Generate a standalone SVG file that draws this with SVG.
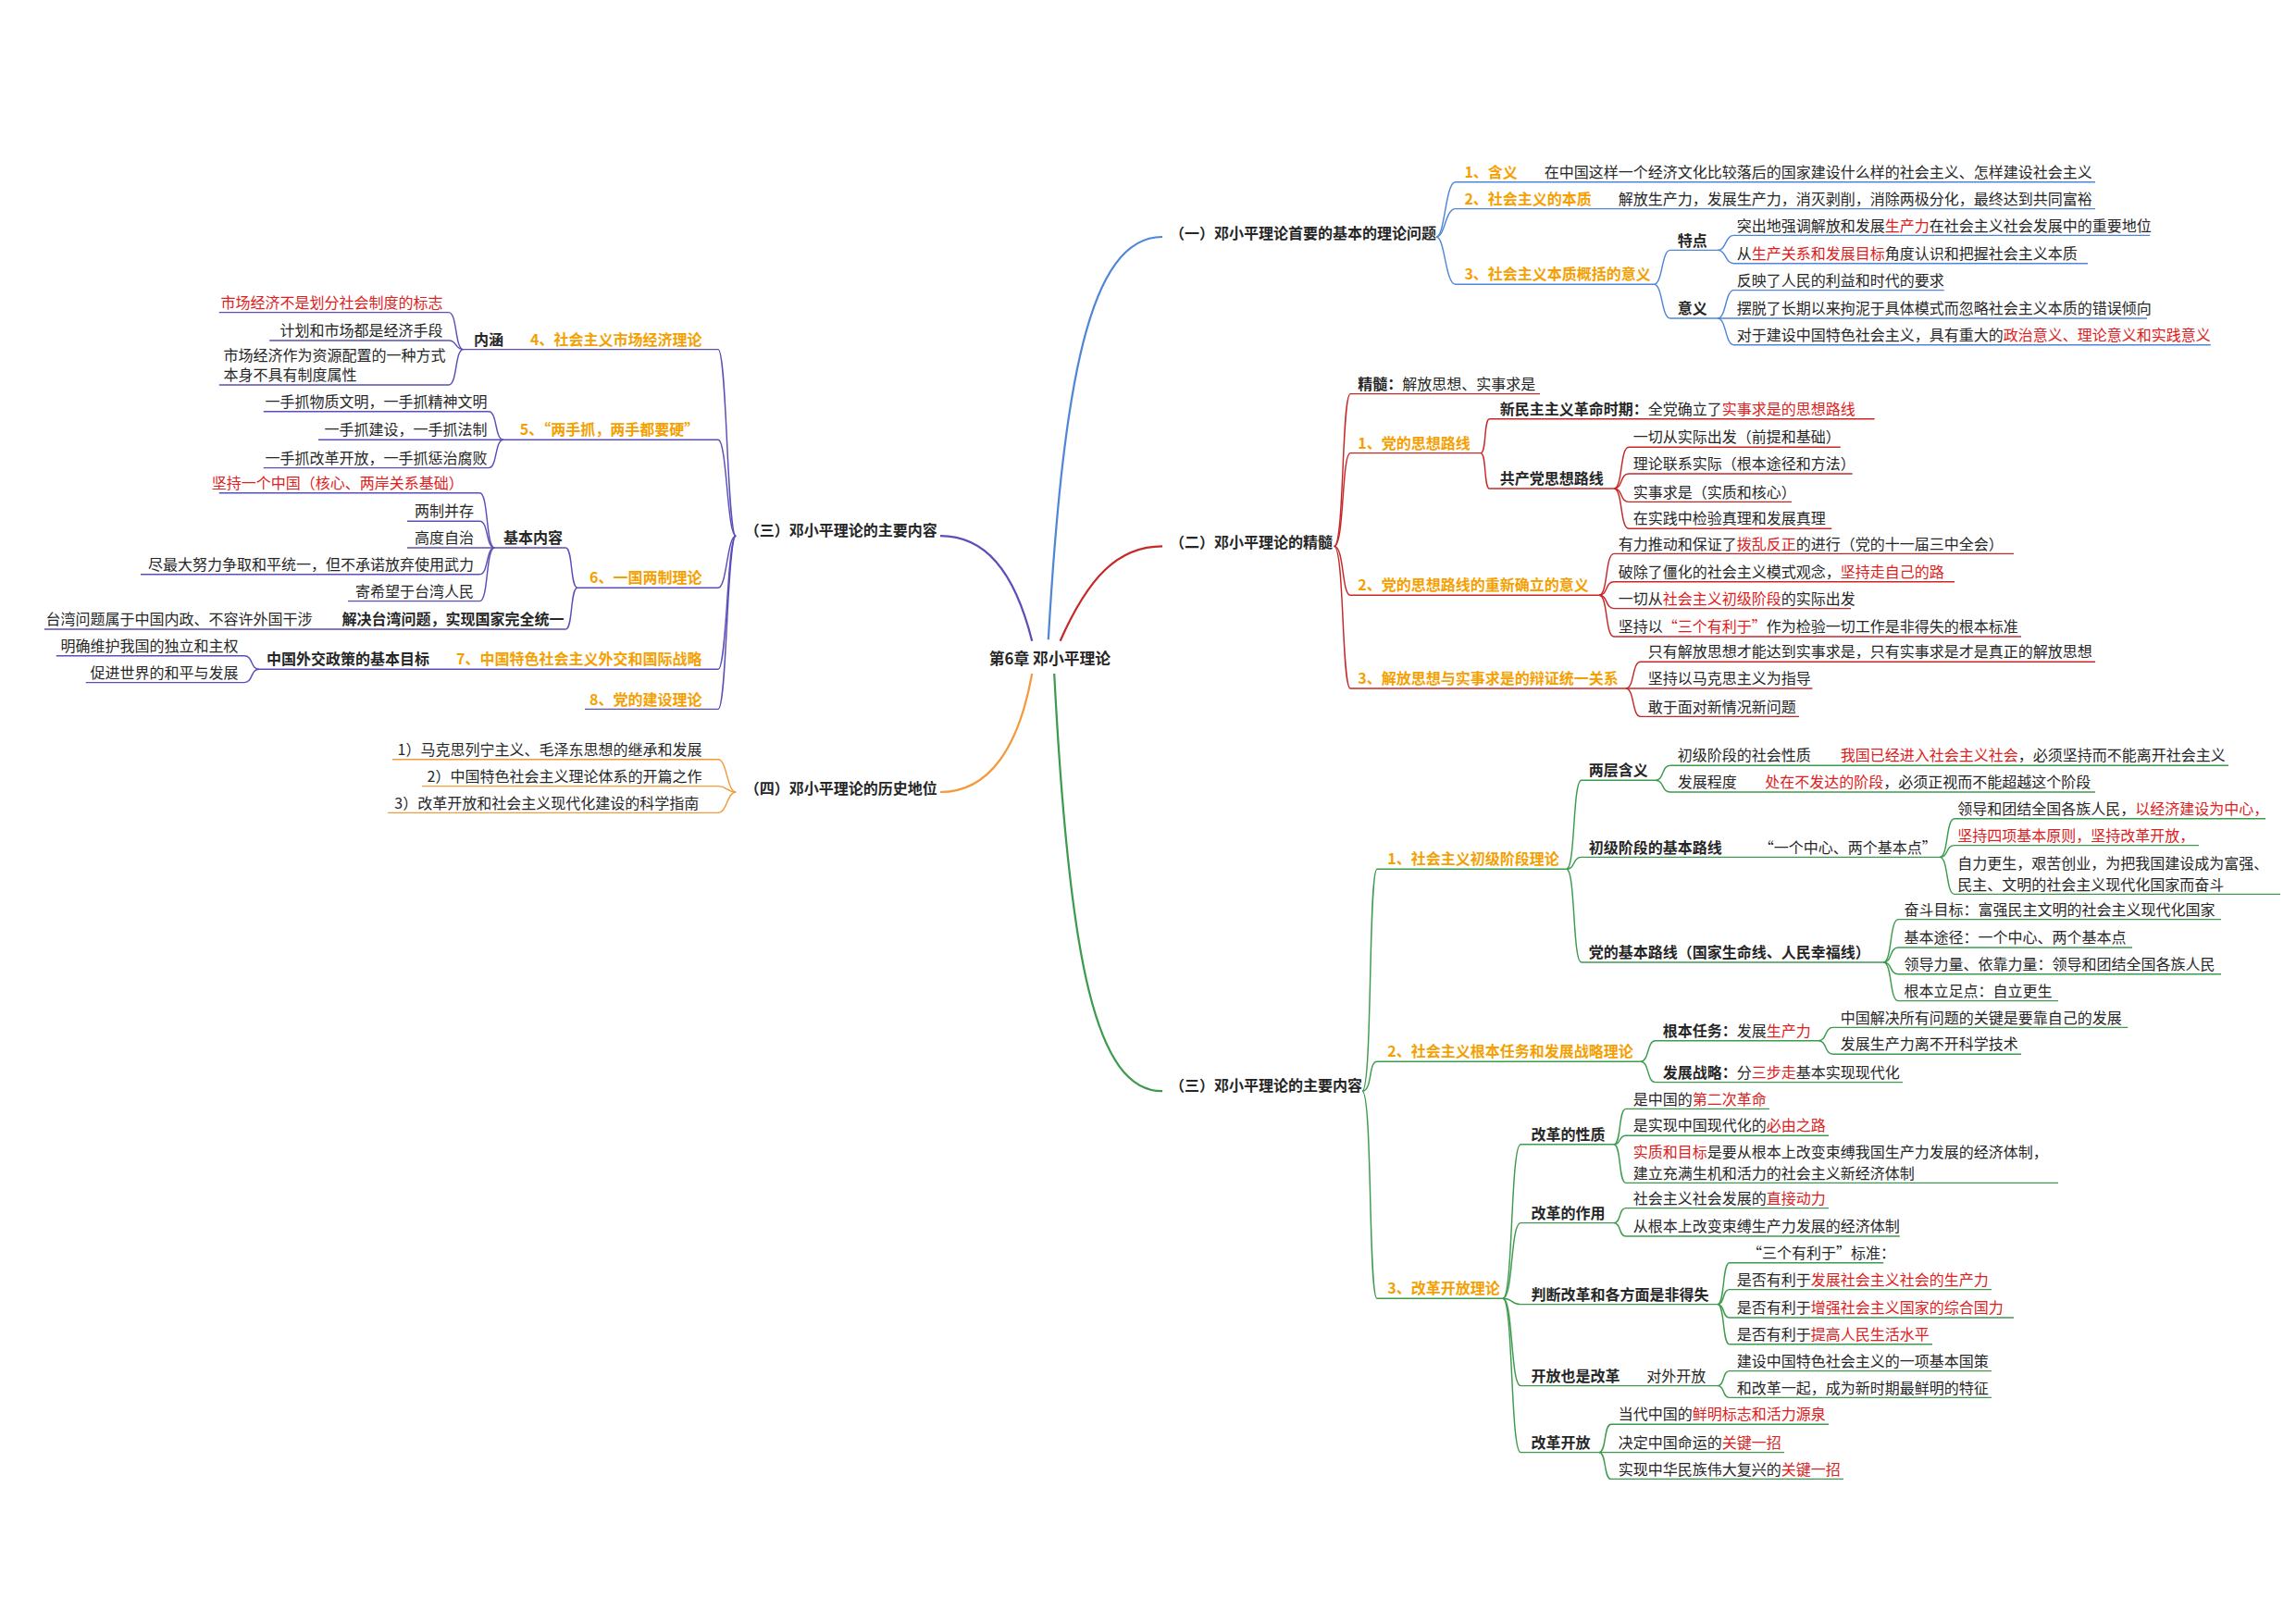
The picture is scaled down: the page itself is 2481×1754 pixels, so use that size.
<svg xmlns="http://www.w3.org/2000/svg" width="2481" height="1754" viewBox="0 0 2481 1754">
<style>
text{font-family:"Noto Sans CJK SC","Liberation Sans",sans-serif;font-size:10px;fill:#262626}
.b{font-weight:bold}
.o{font-weight:bold;fill:#f5a000}
.r{fill:#e02020}
.c{font-weight:bold;font-size:10.5px}
.e{text-anchor:end}
path{fill:none;stroke-width:0.9}
.cb path{stroke:#4f86d6}.cr path{stroke:#c62828}.cg path{stroke:#3c9b4c}.cp path{stroke:#5a4fb8}.co path{stroke:#f39a3c}
.m{stroke-width:1.4}
</style>
<rect width="2481" height="1754" fill="#fff"/>
<g transform="scale(1.6)">
<g id="connectors">
<g class="cb">
<path class="m" d="M708,432 C718,260 735,160 785,160"/>
<path d="M970,160 C976,160 976,123 983,123 H1415"/>
<path d="M970,160 C976,160 976,141 983,141 H1415"/>
<path d="M970,160 C976,160 976,192 983,192 H1117"/>
<path d="M1117,192 C1123,192 1122,169 1128,169 H1160"/>
<path d="M1117,192 C1123,192 1122,215 1128,215 H1160"/>
<path d="M1160,169 C1166,169 1165,159 1171,159 H1452"/>
<path d="M1160,169 C1166,169 1165,178 1171,178 H1410"/>
<path d="M1160,215 C1166,215 1165,196 1171,196 H1313"/>
<path d="M1160,215 H1450"/>
<path d="M1160,215 C1166,215 1165,233 1171,233 H1493"/>
</g>
<g class="cr">
<path class="m" d="M716,433 C735,390 755,369 785,369"/>
<path d="M901,369 C908,369 906,266 912,266 H1040"/>
<path d="M901,369 C908,369 906,306 912,306 H1000"/>
<path d="M901,369 C908,369 906,402 912,402 H1080"/>
<path d="M901,369 C908,369 906,465 912,465 H1098"/>
<path d="M1000,306 C1004,306 1002,283 1006,283 H1266"/>
<path d="M1000,306 C1004,306 1002,330 1006,330 H1090"/>
<path d="M1090,330 C1096,330 1094,302 1100,302 H1243"/>
<path d="M1090,330 C1096,330 1094,320 1100,320 H1251"/>
<path d="M1090,330 C1096,330 1094,339 1100,339 H1210"/>
<path d="M1090,330 C1096,330 1094,357 1100,357 H1237"/>
<path d="M1080,402 C1086,402 1084,374 1090,374 H1360"/>
<path d="M1080,402 C1086,402 1084,393 1090,393 H1320"/>
<path d="M1080,402 C1086,402 1084,411 1090,411 H1250"/>
<path d="M1080,402 C1086,402 1084,430 1090,430 H1365"/>
<path d="M1098,465 C1104,465 1102,447 1108,447 H1415"/>
<path d="M1098,465 H1224"/>
<path d="M1098,465 C1104,465 1102,484 1108,484 H1215"/>
</g>
<g class="cg">
<path class="m" d="M712,455 C722,650 740,737 785,737"/>
<path d="M920,737 C927,737 924,587 930,587 H1058"/>
<path d="M920,737 C927,737 924,717 930,717 H1108"/>
<path d="M920,737 C927,737 924,877 930,877 H1015"/>
<path d="M1058,587 C1064,587 1062,527 1068,527 H1118"/>
<path d="M1058,587 C1064,587 1062,579 1068,579 H1310"/>
<path d="M1058,587 C1064,587 1062,650 1068,650 H1272"/>
<path d="M1118,527 C1124,527 1122,517 1128,517 H1505"/>
<path d="M1118,527 C1124,527 1122,535 1128,535 H1415"/>
<path d="M1310,579 C1316,579 1314,553 1320,553 H1530"/>
<path d="M1310,579 C1316,579 1314,571 1320,571 H1485"/>
<path d="M1310,579 C1316,579 1314,604 1320,604 H1540"/>
<path d="M1272,650 C1278,650 1276,621 1282,621 H1500"/>
<path d="M1272,650 C1278,650 1276,640 1282,640 H1440"/>
<path d="M1272,650 C1278,650 1276,658 1282,658 H1500"/>
<path d="M1272,650 C1278,650 1276,676 1282,676 H1390"/>
<path d="M1108,717 C1114,717 1112,703 1118,703 H1228"/>
<path d="M1108,717 C1114,717 1112,731 1118,731 H1285"/>
<path d="M1228,703 C1234,703 1232,694 1238,694 H1437"/>
<path d="M1228,703 C1234,703 1232,712 1238,712 H1365"/>
<path d="M1015,877 C1022,877 1020,773 1027,773 H1090"/>
<path d="M1015,877 C1022,877 1020,826 1027,826 H1090"/>
<path d="M1015,877 C1022,877 1020,881 1027,881 H1160"/>
<path d="M1015,877 C1022,877 1020,936 1027,936 H1160"/>
<path d="M1015,877 C1022,877 1020,981 1027,981 H1080"/>
<path d="M1090,773 C1095,773 1093,749 1098,749 H1195"/>
<path d="M1090,773 C1095,773 1093,767 1098,767 H1235"/>
<path d="M1090,773 C1095,773 1093,799 1098,799 H1390"/>
<path d="M1090,826 C1095,826 1093,816 1098,816 H1235"/>
<path d="M1090,826 C1095,826 1093,835 1098,835 H1283"/>
<path d="M1160,881 C1165,881 1163,853 1168,853 H1272"/>
<path d="M1160,881 C1165,881 1163,871 1168,871 H1345"/>
<path d="M1160,881 C1165,881 1163,890 1168,890 H1360"/>
<path d="M1160,881 C1165,881 1163,908 1168,908 H1305"/>
<path d="M1160,936 C1165,936 1163,926 1168,926 H1345"/>
<path d="M1160,936 C1165,936 1163,944 1168,944 H1345"/>
<path d="M1080,981 C1085,981 1083,962 1088,962 H1235"/>
<path d="M1080,981 H1205"/>
<path d="M1080,981 C1085,981 1083,999 1088,999 H1245"/>
</g>
<g class="cp">
<path class="m" d="M697,433 C685,385 665,362 635,362"/>
<path d="M497,362 C491,362 491,236 485,236 H313"/>
<path d="M497,362 C491,362 491,297 485,297 H340"/>
<path d="M497,362 C491,362 491,397 485,397 H390"/>
<path d="M497,362 C491,362 491,452 485,452 H175"/>
<path d="M497,362 C491,362 491,479 485,479 H395"/>
<path d="M313,236 C307,236 309,211 303,211 H148"/>
<path d="M313,236 C307,236 309,230 303,230 H182"/>
<path d="M313,236 C307,236 309,260 303,260 H148"/>
<path d="M340,297 C334,297 336,278 330,278 H178"/>
<path d="M340,297 H215"/>
<path d="M340,297 C334,297 336,316 330,316 H178"/>
<path d="M390,397 C385,397 387,370 382,370 H334"/>
<path d="M390,397 C385,397 387,425 382,425 H30"/>
<path d="M334,370 C328,370 330,333 324,333 H148"/>
<path d="M334,370 C328,370 330,352 324,352 H275"/>
<path d="M334,370 H275"/>
<path d="M334,370 C328,370 330,388 324,388 H95"/>
<path d="M334,370 C328,370 330,406 324,406 H235"/>
<path d="M175,452 C169,452 171,443 165,443 H38"/>
<path d="M175,452 C169,452 171,461 165,461 H58"/>
</g>
<g class="co">
<path class="m" d="M697,455 C688,505 668,535 635,535"/>
<path d="M497,535 C491,535 491,513 485,513 H265"/>
<path d="M497,535 C491,535 491,531 485,531 H285"/>
<path d="M497,535 C491,535 491,549 485,549 H262"/>
</g>
</g>
<g id="center"><text class="c" x="668" y="449">第6章 邓小平理论</text></g>
<g id="b1">
<text class="b" x="790" y="161">（一）邓小平理论首要的基本的理论问题</text>
<text class="o" x="989" y="120">1、含义</text><text x="1043" y="120">在中国这样一个经济文化比较落后的国家建设什么样的社会主义、怎样建设社会主义</text>
<text class="o" x="989" y="138">2、社会主义的本质</text><text x="1093" y="138">解放生产力，发展生产力，消灭剥削，消除两极分化，最终达到共同富裕</text>
<text class="o" x="989" y="189">3、社会主义本质概括的意义</text>
<text class="b" x="1133" y="166">特点</text>
<text x="1173" y="156">突出地强调解放和发展<tspan class="r">生产力</tspan>在社会主义社会发展中的重要地位</text>
<text x="1173" y="175">从<tspan class="r">生产关系和发展目标</tspan>角度认识和把握社会主义本质</text>
<text class="b" x="1133" y="212">意义</text>
<text x="1173" y="193">反映了人民的利益和时代的要求</text>
<text x="1173" y="212">摆脱了长期以来拘泥于具体模式而忽略社会主义本质的错误倾向</text>
<text x="1173" y="230">对于建设中国特色社会主义，具有重大的<tspan class="r">政治意义、理论意义和实践意义</tspan></text>
</g>
<g id="b2">
<text class="b" x="790" y="370">（二）邓小平理论的精髓</text>
<text x="917" y="263"><tspan class="b">精髓：</tspan>解放思想、实事求是</text>
<text class="o" x="917" y="303">1、党的思想路线</text>
<text x="1013" y="280"><tspan class="b">新民主主义革命时期：</tspan>全党确立了<tspan class="r">实事求是的思想路线</tspan></text>
<text class="b" x="1013" y="327">共产党思想路线</text>
<text x="1103" y="299">一切从实际出发（前提和基础）</text>
<text x="1103" y="317">理论联系实际（根本途径和方法）</text>
<text x="1103" y="336">实事求是（实质和核心）</text>
<text x="1103" y="354">在实践中检验真理和发展真理</text>
<text class="o" x="917" y="399">2、党的思想路线的重新确立的意义</text>
<text x="1093" y="371">有力推动和保证了<tspan class="r">拨乱反正</tspan>的进行（党的十一届三中全会）</text>
<text x="1093" y="390">破除了僵化的社会主义模式观念，<tspan class="r">坚持走自己的路</tspan></text>
<text x="1093" y="408">一切从<tspan class="r">社会主义初级阶段</tspan>的实际出发</text>
<text x="1093" y="427">坚持以<tspan class="r">“三个有利于”</tspan>作为检验一切工作是非得失的根本标准</text>
<text class="o" x="917" y="462">3、解放思想与实事求是的辩证统一关系</text>
<text x="1113" y="444">只有解放思想才能达到实事求是，只有实事求是才是真正的解放思想</text>
<text x="1113" y="462">坚持以马克思主义为指导</text>
<text x="1113" y="481">敢于面对新情况新问题</text>
</g>
<g id="b3">
<text class="b" x="790" y="737">（三）邓小平理论的主要内容</text>
<text class="o" x="937" y="584">1、社会主义初级阶段理论</text>
<text class="b" x="1073" y="524">两层含义</text>
<text x="1133" y="514">初级阶段的社会性质</text><text x="1243" y="514"><tspan class="r">我国已经进入社会主义社会</tspan>，必须坚持而不能离开社会主义</text>
<text x="1133" y="532">发展程度</text><text x="1192" y="532"><tspan class="r">处在不发达的阶段</tspan>，必须正视而不能超越这个阶段</text>
<text class="b" x="1073" y="576">初级阶段的基本路线</text><text x="1188" y="576">“一个中心、两个基本点”</text>
<text x="1322" y="550">领导和团结全国各族人民，<tspan class="r">以经济建设为中心，</tspan></text>
<text class="r" x="1322" y="568">坚持四项基本原则，坚持改革开放，</text>
<text x="1322" y="587">自力更生，艰苦创业，为把我国建设成为富强、</text>
<text x="1322" y="601">民主、文明的社会主义现代化国家而奋斗</text>
<text class="b" x="1073" y="647">党的基本路线（国家生命线、人民幸福线）</text>
<text x="1286" y="618">奋斗目标：富强民主文明的社会主义现代化国家</text>
<text x="1286" y="637">基本途径：一个中心、两个基本点</text>
<text x="1286" y="655">领导力量、依靠力量：领导和团结全国各族人民</text>
<text x="1286" y="673">根本立足点：自立更生</text>
<text class="o" x="937" y="714">2、社会主义根本任务和发展战略理论</text>
<text x="1123" y="700"><tspan class="b">根本任务：</tspan>发展<tspan class="r">生产力</tspan></text>
<text x="1243" y="691">中国解决所有问题的关键是要靠自己的发展</text>
<text x="1243" y="709">发展生产力离不开科学技术</text>
<text x="1123" y="728"><tspan class="b">发展战略：</tspan>分<tspan class="r">三步走</tspan>基本实现现代化</text>
<text class="o" x="937" y="874">3、改革开放理论</text>
<text class="b" x="1034" y="770">改革的性质</text>
<text x="1103" y="746">是中国的<tspan class="r">第二次革命</tspan></text>
<text x="1103" y="764">是实现中国现代化的<tspan class="r">必由之路</tspan></text>
<text x="1103" y="782"><tspan class="r">实质和目标</tspan>是要从根本上改变束缚我国生产力发展的经济体制，</text>
<text x="1103" y="796">建立充满生机和活力的社会主义新经济体制</text>
<text class="b" x="1034" y="823">改革的作用</text>
<text x="1103" y="813">社会主义社会发展的<tspan class="r">直接动力</tspan></text>
<text x="1103" y="832">从根本上改变束缚生产力发展的经济体制</text>
<text class="b" x="1034" y="878">判断改革和各方面是非得失</text>
<text x="1180" y="850">“三个有利于”标准：</text>
<text x="1173" y="868">是否有利于<tspan class="r">发展社会主义社会的生产力</tspan></text>
<text x="1173" y="887">是否有利于<tspan class="r">增强社会主义国家的综合国力</tspan></text>
<text x="1173" y="905">是否有利于<tspan class="r">提高人民生活水平</tspan></text>
<text class="b" x="1034" y="933">开放也是改革</text><text x="1112" y="933">对外开放</text>
<text x="1173" y="923">建设中国特色社会主义的一项基本国策</text>
<text x="1173" y="941">和改革一起，成为新时期最鲜明的特征</text>
<text class="b" x="1034" y="978">改革开放</text>
<text x="1093" y="959">当代中国的<tspan class="r">鲜明标志和活力源泉</tspan></text>
<text x="1093" y="978">决定中国命运的<tspan class="r">关键一招</tspan></text>
<text x="1093" y="996">实现中华民族伟大复兴的<tspan class="r">关键一招</tspan></text>
</g>
<g id="b3left">
<text class="b" x="503" y="362">（三）邓小平理论的主要内容</text>
<text class="o e" x="474" y="233">4、社会主义市场经济理论</text>
<text class="b" x="320" y="233">内涵</text>
<text class="r e" x="299" y="208">市场经济不是划分社会制度的标志</text>
<text class="e" x="299" y="227">计划和市场都是经济手段</text>
<text x="151" y="244">市场经济作为资源配置的一种方式</text>
<text x="151" y="257">本身不具有制度属性</text>
<text class="o e" x="472" y="294">5、“两手抓，两手都要硬”</text>
<text class="e" x="329" y="275">一手抓物质文明，一手抓精神文明</text>
<text class="e" x="329" y="294">一手抓建设，一手抓法制</text>
<text class="e" x="329" y="313">一手抓改革开放，一手抓惩治腐败</text>
<text class="o e" x="474" y="394">6、一国两制理论</text>
<text class="b e" x="380" y="367">基本内容</text>
<text class="r e" x="313" y="330">坚持一个中国（核心、两岸关系基础）</text>
<text class="e" x="320" y="349">两制并存</text>
<text class="e" x="320" y="367">高度自治</text>
<text class="e" x="320" y="385">尽最大努力争取和平统一，但不承诺放弃使用武力</text>
<text class="e" x="320" y="403">寄希望于台湾人民</text>
<text class="b e" x="381" y="422">解决台湾问题，实现国家完全统一</text>
<text class="e" x="211" y="422">台湾问题属于中国内政、不容许外国干涉</text>
<text class="o e" x="474" y="449">7、中国特色社会主义外交和国际战略</text>
<text class="b e" x="290" y="449">中国外交政策的基本目标</text>
<text class="e" x="161" y="440">明确维护我国的独立和主权</text>
<text class="e" x="161" y="458">促进世界的和平与发展</text>
<text class="o e" x="474" y="476">8、党的建设理论</text>
</g>
<g id="b4">
<text class="b" x="503" y="536">（四）邓小平理论的历史地位</text>
<text class="e" x="474" y="510">1）马克思列宁主义、毛泽东思想的继承和发展</text>
<text class="e" x="474" y="528">2）中国特色社会主义理论体系的开篇之作</text>
<text class="e" x="472" y="546">3）改革开放和社会主义现代化建设的科学指南</text>
</g>
</g>
</svg>
